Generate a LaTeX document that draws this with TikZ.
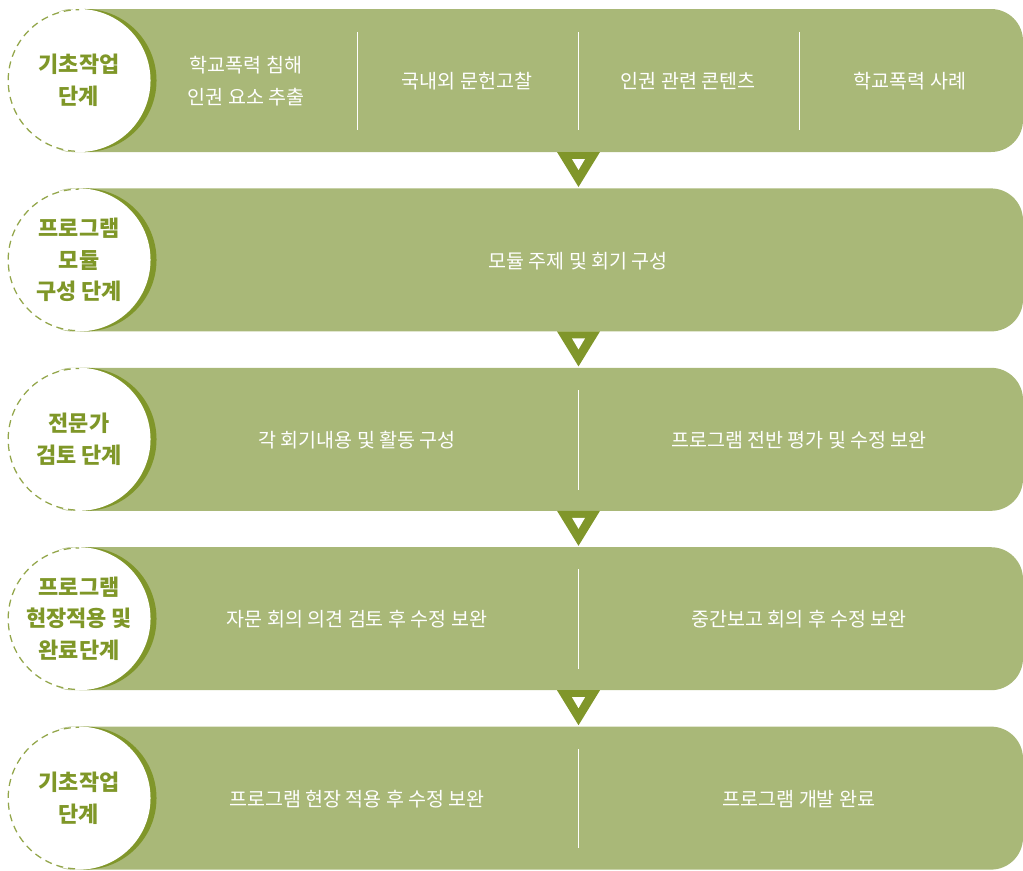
\documentclass[tikz,border=0pt]{standalone}
\usepackage{fontspec}
\setmainfont{Noto Sans CJK KR}
\definecolor{barfill}{HTML}{A9B878}
\definecolor{stagedark}{HTML}{80962A}
\definecolor{stagetext}{HTML}{7F9728}
\tikzset{
	stage/.style={circle, fill=white, minimum size=3.575cm, inner sep=0pt, align=center,
		text=stagetext, font=\fontsize{15.6}{22.5}\selectfont\bfseries},
	item/.style={text=white, align=center, font=\fontsize{13.9}{22.8}\selectfont},
	divider/.style={draw=white, line width=0.6pt},
	stageline/.style={draw=stagedark!85, line width=0.9pt, dash pattern=on 5pt off 3.5pt},
}
\begin{document}
\begin{tikzpicture}[x=0.025cm, y=-0.025cm]
	\useasboundingbox (0,0) rectangle (1023,870);
	
	% Bars and stage circles
	\foreach \i/\y/\name in {1/80.5/{기초작업\\단계}, 2/259.9/{프로그램\\모듈\\구성 단계},
		3/439.3/{전문가\\검토 단계}, 4/618.7/{프로그램\\현장적용 및\\완료단계}, 5/798.1/{기초작업\\단계}} {
		\fill[barfill, rounded corners=0.8cm] (40,\y-71.5) rectangle (1023,\y+71.5);
		\fill[stagedark] (85,\y) circle[radius=1.7875cm];
		\node[stage] (st\i) at (79,\y) {\name};
		\begin{scope}
			\clip (0,\y-80) rectangle (79,\y+80);
			\draw[stageline] (st\i.center) circle[radius=1.77cm];
		\end{scope}
	}
	
	% Arrows between bars
	\foreach \t in {152, 331.4, 510.8, 690.2} {
		\fill[stagedark] (557,\t) -- (600,\t) -- (578.5,\t+35) -- cycle;
		\fill[white] (572,\t+7) -- (585,\t+7) -- (578.5,\t+18) -- cycle;
	}
	
	% Row 1
	\node[item] (a1) at (246,81) {학교폭력 침해\\인권 요소 추출};
	\node[item] (a2) at (467,81) {국내외 문헌고찰};
	\node[item] (a3) at (688,81) {인권 관련 콘텐츠};
	\node[item] (a4) at (910,81) {학교폭력 사례};
	\foreach \x in {357, 578, 799} {
		\draw[divider] (\x,32) -- (\x,130);
	}
	
	% Row 2
	\node[item] (b1) at (578,261) {모듈 주제 및 회기 구성};
	
	% Row 3
	\node[item] (c1) at (357,440) {각 회기내용 및 활동 구성};
	\node[item] (c2) at (799,440) {프로그램 전반 평가 및 수정 보완};
	\draw[divider] (578,390) -- (578,490);
	
	% Row 4
	\node[item] (d1) at (357,619) {자문 회의 의견 검토 후 수정 보완};
	\node[item] (d2) at (799,619) {중간보고 회의 후 수정 보완};
	\draw[divider] (578,569) -- (578,669);
	
	% Row 5
	\node[item] (e1) at (357,799) {프로그램 현장 적용 후 수정 보완};
	\node[item] (e2) at (799,799) {프로그램 개발 완료};
	\draw[divider] (578,749) -- (578,848);
\end{tikzpicture}
\end{document}
